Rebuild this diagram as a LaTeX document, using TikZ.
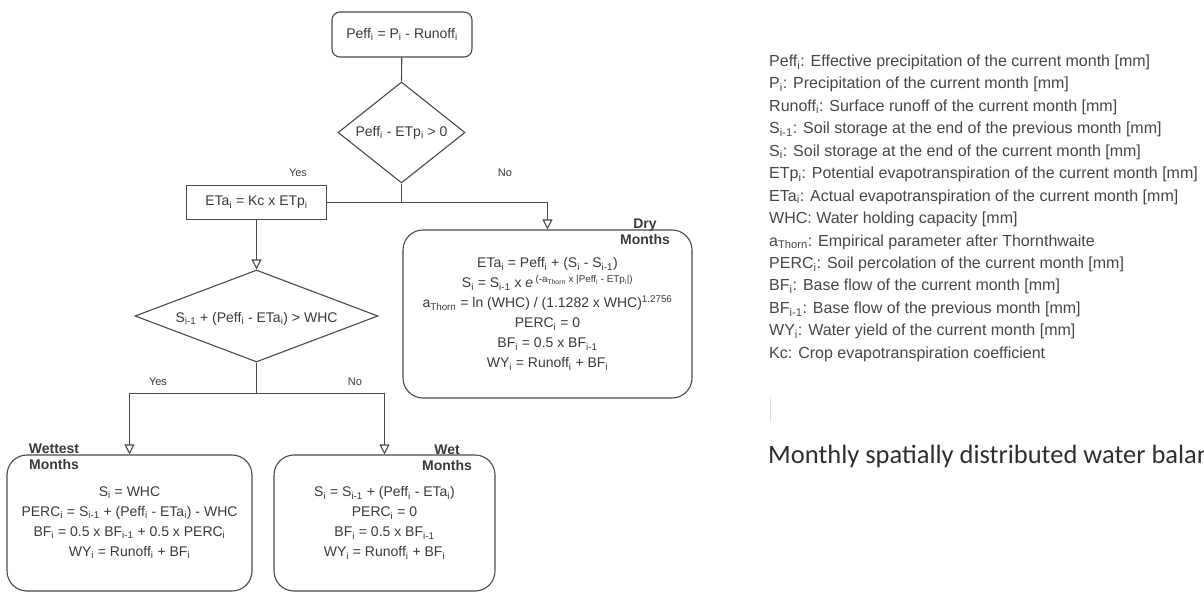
\documentclass[tikz,border=0pt]{standalone}
\usepackage{fontspec}
\setmainfont{Liberation Sans}
\newfontfamily\titlefont{Carlito}
\usetikzlibrary{shapes.geometric,arrows.meta}
\newcommand{\sbs}[1]{\textsubscript{#1}}
\newcommand{\sps}[1]{\textsuperscript{#1}}
\definecolor{ink}{HTML}{3A3A3A}
\definecolor{edge}{HTML}{4A4A4A}
\begin{document}
\begin{tikzpicture}[x=1pt,y=-1pt,
  every node/.style={text=ink, font=\fontsize{14}{20}\selectfont},
  shape box/.style={draw=edge, line width=1.1pt, inner sep=0pt},
  roundbox/.style={shape box, rectangle, rounded corners=8pt},
  bigbox/.style={shape box, rectangle, rounded corners=20pt, align=center},
  plainbox/.style={shape box, rectangle},
  decision/.style={shape box, diamond},
  line/.style={draw=edge, line width=1.1pt},
  arr/.style={line, -{Triangle[open, length=10pt, width=10pt, fill=white]}},
  branch/.style={font=\fontsize{11}{13}\selectfont},
  tag/.style={font=\bfseries\fontsize{14}{16}\selectfont, align=center},
  legend/.style={anchor=base west, inner sep=0pt, text=black!72,
                 font=\fontsize{16}{18}\selectfont}
]
\useasboundingbox (0,0) rectangle (1204,593);
\clip (0,0) rectangle (1204,593);

% ---- flowchart nodes ----
\node[roundbox, minimum width=140pt, minimum height=45pt] (top) at (402,34.5)
  {Peff\sbs{i} = P\sbs{i} - Runoff\sbs{i}};
\node[decision, minimum width=127pt, minimum height=101pt] (d1) at (401.5,132.5) {};
\node at (d1) {Peff\sbs{i} - ETp\sbs{i} > 0};

\node[plainbox, minimum width=140pt, minimum height=34pt] (eta) at (256.5,202.5)
  {ETa\sbs{i} = Kc x ETp\sbs{i}};

\node[decision, minimum width=243pt, minimum height=92pt] (d2) at (256.5,316) {};
\node at ([yshift=-3pt]d2.center) {S\sbs{i-1} + (Peff\sbs{i} - ETa\sbs{i}) > WHC};

\node[bigbox, minimum width=289pt, minimum height=168pt] (dry) at (547.5,314)
  {ETa\sbs{i} = Peff\sbs{i} + (S\sbs{i} - S\sbs{i-1})\\
   S\sbs{i} = S\sbs{i-1} x \textit{e}\,\sps{(-a\sbs{Thorn} x |Peff\sbs{i} - ETp\sbs{i}|)}\\
   a\sbs{Thorn} = ln (WHC) / (1.1282 x WHC)\sps{1.2756}\\
   PERC\sbs{i} = 0\\
   BF\sbs{i} = 0.5 x BF\sbs{i-1}\\
   WY\sbs{i} = Runoff\sbs{i} + BF\sbs{i}};

\node[bigbox, minimum width=245pt, minimum height=136pt] (wettest) at (129.5,523)
  {S\sbs{i} = WHC\\
   PERC\sbs{i} = S\sbs{i-1} + (Peff\sbs{i} - ETa\sbs{i}) - WHC\\
   BF\sbs{i} = 0.5 x BF\sbs{i-1} + 0.5 x PERC\sbs{i}\\
   WY\sbs{i} = Runoff\sbs{i} + BF\sbs{i}};

\node[bigbox, minimum width=221pt, minimum height=136pt] (wet) at (384.5,523)
  {S\sbs{i} = S\sbs{i-1} + (Peff\sbs{i} - ETa\sbs{i})\\
   PERC\sbs{i} = 0\\
   BF\sbs{i} = 0.5 x BF\sbs{i-1}\\
   WY\sbs{i} = Runoff\sbs{i} + BF\sbs{i}};

% ---- box captions ----
\node[tag] (drytag) at (645,232) {Dry\\Months};
\node[tag] (wettesttag) at (54,456.5) {Wettest\\Months};
\node[tag] (wettag) at (447,457.5) {Wet\\Months};

% ---- connectors ----
\coordinate (j1) at (d1.south |- eta.east);
\coordinate (j2) at (256.5,393.5);
\draw[line] (top) -- (d1.north);
\draw[line] (d1.south) -- (j1);
\draw[line] (eta.east) -- (j1);
\draw[arr] (j1) -| (dry.north);
\draw[arr] (eta.south) -- (d2.north);
\draw[line] (d2.south) -- (j2);
\draw[arr] (j2) -| (wettest.north);
\draw[arr] (j2) -| (wet.north);

% ---- branch labels ----
\node[branch] (yes1) at (298,173) {Yes};
\node[branch] (no1) at (505,173) {No};
\node[branch] (yes2) at (158,382) {Yes};
\node[branch] (no2) at (355,382) {No};

% ---- legend ----
\foreach \k/\txt in {
  0/{Peff\sbs{i}: Effective precipitation of the current month [mm]},
  1/{P\sbs{i}: Precipitation of the current month [mm]},
  2/{Runoff\sbs{i}: Surface runoff of the current month [mm]},
  3/{S\sbs{i-1}: Soil storage at the end of the previous month [mm]},
  4/{S\sbs{i}: Soil storage at the end of the current month [mm]},
  5/{ETp\sbs{i}: Potential evapotranspiration of the current month [mm]},
  6/{ETa\sbs{i}: Actual evapotranspiration of the current month [mm]},
  7/{WHC: Water holding capacity [mm]},
  8/{a\sbs{Thorn}: Empirical parameter after Thornthwaite},
  9/{PERC\sbs{i}: Soil percolation of the current month [mm]},
  10/{BF\sbs{i}: Base flow of the current month [mm]},
  11/{BF\sbs{i-1}: Base flow of the previous month [mm]},
  12/{WY\sbs{i}: Water yield of the current month [mm]},
  13/{Kc: Crop evapotranspiration coefficient}}
  {\node[legend] (leg\k) at (769, 66.5+22.45*\k) {\txt};}

% faint cursor mark and title, which runs off the right edge
\draw[black!12, line width=1pt] (770,398) -- (770,422);
\node[anchor=base west, inner sep=0pt, text=black!82,
      font=\titlefont\fontsize{26.5}{30}\selectfont] (title) at (768,463)
  {Monthly spatially distributed water balance};
\end{tikzpicture}
\end{document}
